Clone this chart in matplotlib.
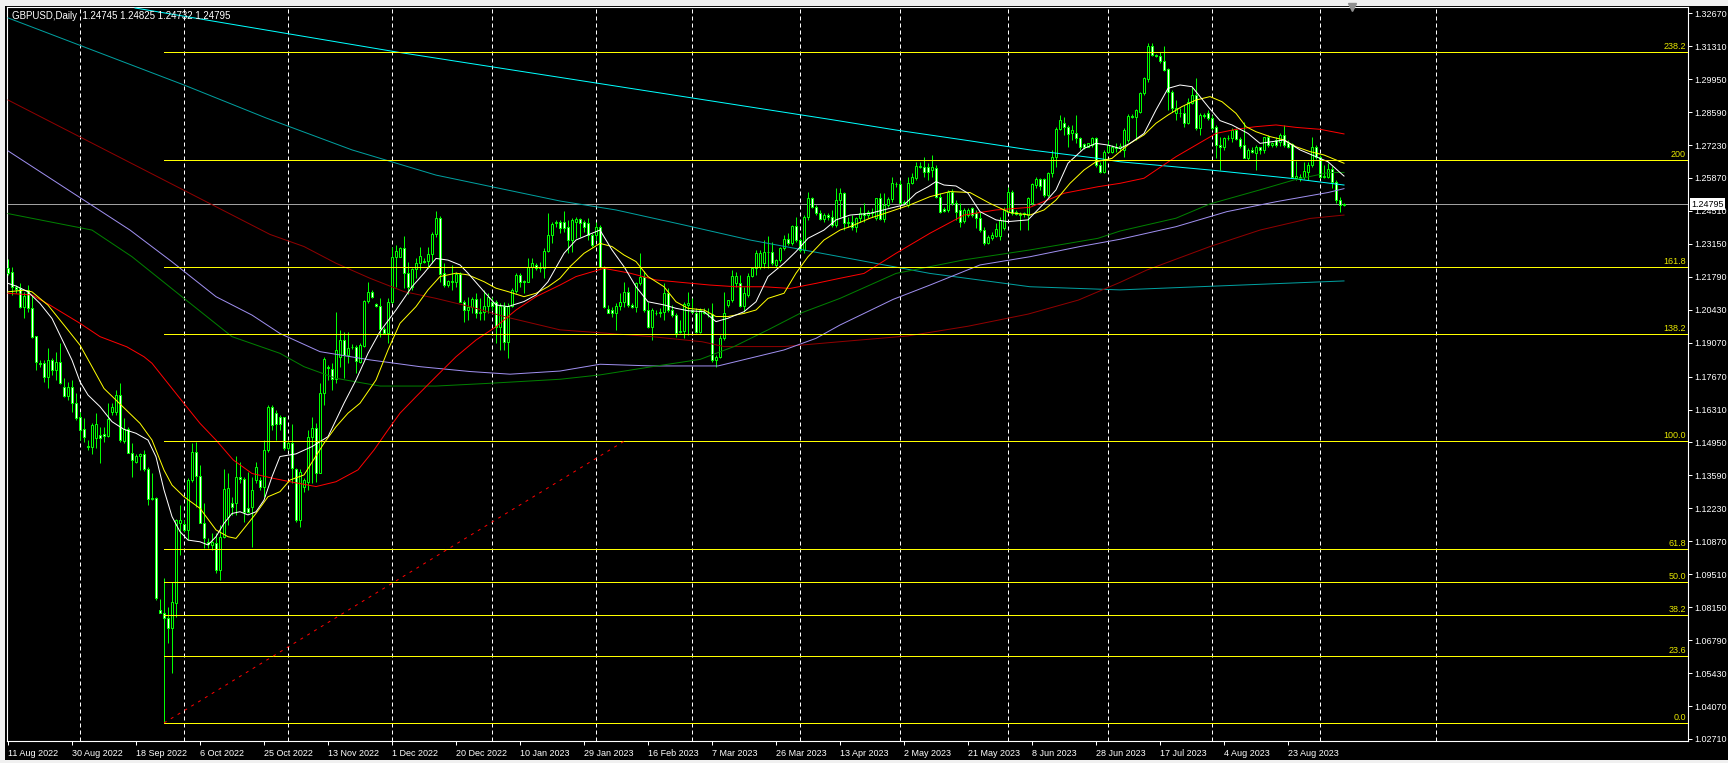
import matplotlib
matplotlib.use("Agg")
import matplotlib.pyplot as plt
import numpy as np

plt.rcParams['font.family'] = ['Liberation Sans', 'DejaVu Sans']

# GBPUSD daily candles, one bar per trading day (Sun-Fri), 11 Aug 2022 .. Sep 2023
opens = [
    1.2214, 1.2200, 1.2138, 1.2131, 1.2056, 1.2124, 1.2049, 1.1934, 1.1824, 1.1822,
    1.1767, 1.1835, 1.1794, 1.1826, 1.1725, 1.1688, 1.1725, 1.1659, 1.1599, 1.1551,
    1.1480, 1.1478, 1.1512, 1.1526, 1.1530, 1.1523, 1.1622, 1.1622, 1.1691, 1.1502,
    1.1549, 1.1453, 1.1416, 1.1439, 1.1446, 1.1384, 1.1260, 1.1264, 1.0803, 1.0792,
    1.0769, 1.0728, 1.0834, 1.1164, 1.1158, 1.1133, 1.1340, 1.1457, 1.1356, 1.1164,
    1.1085, 1.1072, 1.1081, 1.0968, 1.1106, 1.1186, 1.1246, 1.1246, 1.1354, 1.1343,
    1.1223, 1.1227, 1.1340, 1.1340, 1.1310, 1.1464, 1.1640, 1.1618, 1.1602, 1.1602,
    1.1471, 1.1492, 1.1384, 1.1175, 1.1313, 1.1333, 1.1516, 1.1554, 1.1370, 1.1698,
    1.1808, 1.1799, 1.1756, 1.1849, 1.1918, 1.1856, 1.1891, 1.1888, 1.1826, 1.1895,
    1.2079, 1.2115, 1.2066, 1.2059, 1.1962, 1.1949, 1.2077, 1.2260, 1.2262, 1.2297,
    1.2194, 1.2136, 1.2211, 1.2235, 1.2246, 1.2244, 1.2272, 1.2356, 1.2420, 1.2194,
    1.2145, 1.2156, 1.2159, 1.2191, 1.2077, 1.2042, 1.2053, 1.2087, 1.2028, 1.2032,
    1.2059, 1.2077, 1.2077, 1.1970, 1.2059, 1.1911, 1.2059, 1.2122, 1.2187, 1.2162,
    1.2159, 1.2218, 1.2228, 1.2214, 1.2214, 1.2286, 1.2352, 1.2400, 1.2407, 1.2407,
    1.2386, 1.2331, 1.2407, 1.2416, 1.2407, 1.2403, 1.2352, 1.2352, 1.2386, 1.2221,
    1.2045, 1.2042, 1.2028, 1.2059, 1.2076, 1.2118, 1.2063, 1.2056, 1.2152, 1.2180,
    1.2042, 1.1973, 1.2031, 1.2031, 1.2035, 1.2111, 1.2042, 1.2021, 1.1953, 1.1957,
    1.2063, 1.2042, 1.2028, 1.1953, 1.2035, 1.2031, 1.2025, 1.1836, 1.1849, 1.1925,
    1.2063, 1.2083, 1.2152, 1.2155, 1.2059, 1.2104, 1.2182, 1.2214, 1.2221, 1.2235,
    1.2283, 1.2283, 1.2228, 1.2249, 1.2297, 1.2334, 1.2317, 1.2389, 1.2331, 1.2290,
    1.2425, 1.2503, 1.2466, 1.2441, 1.2416, 1.2434, 1.2427, 1.2393, 1.2496, 1.2524,
    1.2400, 1.2407, 1.2386, 1.2421, 1.2441, 1.2434, 1.2448, 1.2421, 1.2503, 1.2416,
    1.2476, 1.2499, 1.2562, 1.2562, 1.2482, 1.2476, 1.2568, 1.2586, 1.2634, 1.2631,
    1.2631, 1.2620, 1.2627, 1.2510, 1.2458, 1.2455, 1.2531, 1.2485, 1.2455, 1.2411,
    1.2434, 1.2462, 1.2441, 1.2421, 1.2372, 1.2317, 1.2338, 1.2348, 1.2348, 1.2379,
    1.2448, 1.2531, 1.2448, 1.2438, 1.2441, 1.2434, 1.2482, 1.2558, 1.2582, 1.2582,
    1.2517, 1.2606, 1.2672, 1.2789, 1.2815, 1.2799, 1.2771, 1.2771, 1.2751, 1.2726,
    1.2716, 1.2723, 1.2751, 1.2641, 1.2613, 1.2696, 1.2696, 1.2716, 1.2709, 1.2703,
    1.2744, 1.2843, 1.2840, 1.2861, 1.2937, 1.2994, 1.3132, 1.3095, 1.3091, 1.3071,
    1.3036, 1.2943, 1.2857, 1.2857, 1.2854, 1.2813, 1.2898, 1.2930, 1.2792, 1.2847,
    1.2857, 1.2833, 1.2799, 1.2723, 1.2716, 1.2751, 1.2751, 1.2785, 1.2747, 1.2723,
    1.2671, 1.2703, 1.2689, 1.2716, 1.2703, 1.2755, 1.2723, 1.2744, 1.2737, 1.2765,
    1.2733, 1.2727, 1.2586, 1.2592, 1.2590, 1.2613, 1.2641, 1.2716, 1.2675, 1.2592,
    1.2592, 1.2623, 1.2572, 1.2496, 1.24745,
]
highs = [
    1.2251, 1.2218, 1.2145, 1.2152, 1.2117, 1.2145, 1.2104, 1.1934, 1.1835, 1.1835,
    1.1884, 1.1842, 1.1870, 1.1904, 1.1760, 1.1746, 1.1753, 1.1698, 1.1622, 1.1595,
    1.1505, 1.1574, 1.1615, 1.1560, 1.1560, 1.1657, 1.1657, 1.1712, 1.1739, 1.1595,
    1.1560, 1.1491, 1.1447, 1.1450, 1.1464, 1.1392, 1.1367, 1.1271, 1.0847, 1.0937,
    1.0817, 1.0920, 1.1180, 1.1237, 1.1175, 1.1347, 1.1491, 1.1498, 1.1402, 1.1244,
    1.1099, 1.1120, 1.1120, 1.1154, 1.1384, 1.1367, 1.1271, 1.1439, 1.1416, 1.1354,
    1.1374, 1.1354, 1.1416, 1.1354, 1.1505, 1.1650, 1.1650, 1.1629, 1.1609, 1.1602,
    1.1506, 1.1572, 1.1389, 1.1384, 1.1347, 1.1547, 1.1602, 1.1574, 1.1739, 1.1849,
    1.1815, 1.1822, 1.2035, 1.1960, 1.1953, 1.1953, 1.1902, 1.1898, 1.1905, 1.2083,
    1.2159, 1.2125, 1.2072, 1.2090, 1.1973, 1.2090, 1.2304, 1.2310, 1.2304, 1.2348,
    1.2242, 1.2214, 1.2255, 1.2304, 1.2255, 1.2304, 1.2365, 1.2451, 1.2430, 1.2235,
    1.2166, 1.2228, 1.2200, 1.2200, 1.2083, 1.2097, 1.2097, 1.2114, 1.2090, 1.2125,
    1.2111, 1.2097, 1.2083, 1.2070, 1.2077, 1.2070, 1.2132, 1.2194, 1.2194, 1.2166,
    1.2255, 1.2255, 1.2235, 1.2240, 1.2297, 1.2441, 1.2407, 1.2414, 1.2414, 1.2452,
    1.2414, 1.2420, 1.2427, 1.2420, 1.2414, 1.2420, 1.2359, 1.2407, 1.2393, 1.2224,
    1.2063, 1.2056, 1.2070, 1.2114, 1.2159, 1.2138, 1.2070, 1.2159, 1.2276, 1.2201,
    1.2076, 1.2049, 1.2042, 1.2049, 1.2152, 1.2132, 1.2063, 1.2028, 1.2001, 1.2076,
    1.2118, 1.2090, 1.2049, 1.2049, 1.2049, 1.2049, 1.2072, 1.1856, 1.1939, 1.2118,
    1.2083, 1.2207, 1.2200, 1.2187, 1.2138, 1.2194, 1.2221, 1.2290, 1.2290, 1.2331,
    1.2348, 1.2324, 1.2251, 1.2304, 1.2352, 1.2359, 1.2393, 1.2427, 1.2338, 1.2434,
    1.2531, 1.2510, 1.2476, 1.2455, 1.2441, 1.2441, 1.2455, 1.2544, 1.2544, 1.2531,
    1.2427, 1.2434, 1.2427, 1.2469, 1.2482, 1.2455, 1.2462, 1.2503, 1.2524, 1.2524,
    1.2510, 1.2593, 1.2572, 1.2579, 1.2496, 1.2593, 1.2606, 1.2654, 1.2654, 1.2675,
    1.2648, 1.2682, 1.2641, 1.2524, 1.2469, 1.2538, 1.2540, 1.2496, 1.2482, 1.2462,
    1.2462, 1.2469, 1.2455, 1.2448, 1.2386, 1.2352, 1.2365, 1.2400, 1.2427, 1.2469,
    1.2551, 1.2538, 1.2455, 1.2448, 1.2448, 1.2510, 1.2568, 1.2593, 1.2586, 1.2586,
    1.2613, 1.2703, 1.2799, 1.2847, 1.2837, 1.2806, 1.2806, 1.2847, 1.2758, 1.2730,
    1.2733, 1.2758, 1.2758, 1.2655, 1.2703, 1.2744, 1.2723, 1.2730, 1.2730, 1.2792,
    1.2851, 1.2850, 1.2871, 1.2943, 1.3005, 1.3143, 1.3143, 1.3098, 1.3108, 1.3132,
    1.3040, 1.2950, 1.2909, 1.2875, 1.2888, 1.2916, 1.2964, 1.2998, 1.2854, 1.2857,
    1.2868, 1.2847, 1.2806, 1.2758, 1.2758, 1.2765, 1.2792, 1.2792, 1.2758, 1.2820,
    1.2710, 1.2713, 1.2723, 1.2716, 1.2758, 1.2765, 1.2737, 1.2755, 1.2772, 1.2806,
    1.2744, 1.2730, 1.2658, 1.2603, 1.2654, 1.2654, 1.2755, 1.2723, 1.2680, 1.2641,
    1.2648, 1.2637, 1.2579, 1.2510, 1.24825,
]
lows = [
    1.2186, 1.2104, 1.2111, 1.2049, 1.2011, 1.2035, 1.1925, 1.1794, 1.1808, 1.1746,
    1.1718, 1.1773, 1.1753, 1.1736, 1.1684, 1.1670, 1.1622, 1.1588, 1.1505, 1.1498,
    1.1464, 1.1447, 1.1471, 1.1409, 1.1498, 1.1519, 1.1608, 1.1608, 1.1498, 1.1491,
    1.1450, 1.1354, 1.1409, 1.1381, 1.1378, 1.1237, 1.1257, 1.0845, 1.0790, 1.0337,
    1.0666, 1.0542, 1.0776, 1.1030, 1.1127, 1.1092, 1.1333, 1.1230, 1.1161, 1.1058,
    1.1058, 1.1051, 1.0955, 1.0927, 1.1099, 1.1154, 1.1195, 1.1195, 1.1326, 1.1168,
    1.1202, 1.1065, 1.1326, 1.1299, 1.1271, 1.1457, 1.1546, 1.1505, 1.1547, 1.1464,
    1.1464, 1.1327, 1.1168, 1.1148, 1.1292, 1.1299, 1.1327, 1.1333, 1.1368, 1.1650,
    1.1753, 1.1712, 1.1739, 1.1808, 1.1760, 1.1822, 1.1880, 1.1783, 1.1822, 1.1891,
    1.2070, 1.2090, 1.2053, 1.1932, 1.1943, 1.1905, 1.2070, 1.2138, 1.2262, 1.2131,
    1.2108, 1.2125, 1.2173, 1.2207, 1.2235, 1.2214, 1.2235, 1.2345, 1.2159, 1.2138,
    1.2138, 1.2125, 1.2138, 1.2077, 1.1994, 1.2001, 1.2028, 1.2008, 1.2001, 1.2001,
    1.2028, 1.2042, 1.1905, 1.1877, 1.1877, 1.1843, 1.2056, 1.2111, 1.2138, 1.2111,
    1.2156, 1.2173, 1.2207, 1.2200, 1.2173, 1.2283, 1.2317, 1.2386, 1.2359, 1.2365,
    1.2276, 1.2283, 1.2338, 1.2345, 1.2365, 1.2331, 1.2304, 1.2331, 1.2214, 1.2049,
    1.2028, 1.2015, 1.1960, 1.2042, 1.2056, 1.2053, 1.2049, 1.2035, 1.2145, 1.2035,
    1.1966, 1.1918, 1.2021, 1.2015, 1.2001, 1.2035, 1.2015, 1.1932, 1.1946, 1.1925,
    1.1939, 1.2028, 1.1946, 1.1946, 1.2025, 1.2015, 1.1829, 1.1808, 1.1842, 1.1918,
    1.2056, 1.2076, 1.2138, 1.2056, 1.2035, 1.2097, 1.2180, 1.2187, 1.2210, 1.2214,
    1.2214, 1.2228, 1.2218, 1.2242, 1.2290, 1.2311, 1.2311, 1.2324, 1.2283, 1.2276,
    1.2414, 1.2462, 1.2434, 1.2414, 1.2407, 1.2414, 1.2386, 1.2386, 1.2427, 1.2372,
    1.2386, 1.2372, 1.2365, 1.2407, 1.2407, 1.2421, 1.2427, 1.2414, 1.2414, 1.2407,
    1.2469, 1.2489, 1.2551, 1.2476, 1.2476, 1.2469, 1.2562, 1.2579, 1.2627, 1.2593,
    1.2579, 1.2593, 1.2503, 1.2441, 1.2448, 1.2448, 1.2476, 1.2414, 1.2386, 1.2400,
    1.2427, 1.2427, 1.2379, 1.2365, 1.2311, 1.2315, 1.2331, 1.2342, 1.2331, 1.2372,
    1.2441, 1.2434, 1.2434, 1.2372, 1.2427, 1.2372, 1.2476, 1.2544, 1.2538, 1.2510,
    1.2510, 1.2593, 1.2634, 1.2785, 1.2765, 1.2716, 1.2744, 1.2730, 1.2703, 1.2705,
    1.2714, 1.2716, 1.2634, 1.2606, 1.2606, 1.2689, 1.2689, 1.2696, 1.2696, 1.2675,
    1.2737, 1.2835, 1.2744, 1.2854, 1.2930, 1.2985, 1.3091, 1.3088, 1.3060, 1.3028,
    1.2868, 1.2861, 1.2826, 1.2840, 1.2799, 1.2810, 1.2893, 1.2785, 1.2765, 1.2833,
    1.2826, 1.2785, 1.2668, 1.2620, 1.2703, 1.2744, 1.2737, 1.2744, 1.2710, 1.2668,
    1.2661, 1.2689, 1.2620, 1.2686, 1.2689, 1.2714, 1.2716, 1.2716, 1.2719, 1.2716,
    1.2710, 1.2586, 1.2579, 1.2576, 1.2581, 1.2579, 1.2634, 1.2664, 1.2586, 1.2586,
    1.2586, 1.2544, 1.2482, 1.2448, 1.24732,
]
closes = [
    1.2193, 1.2138, 1.2127, 1.2056, 1.2100, 1.2049, 1.1932, 1.1828, 1.1819, 1.1767,
    1.1835, 1.1794, 1.1826, 1.1742, 1.1688, 1.1725, 1.1659, 1.1595, 1.1546, 1.1516,
    1.1475, 1.1567, 1.1571, 1.1512, 1.1522, 1.1592, 1.1640, 1.1691, 1.1505, 1.1549,
    1.1453, 1.1423, 1.1439, 1.1446, 1.1384, 1.1260, 1.1264, 1.0852, 1.0792, 1.0769,
    1.0728, 1.0838, 1.1175, 1.1175, 1.1133, 1.1340, 1.1457, 1.1356, 1.1164, 1.1099,
    1.1076, 1.1085, 1.0968, 1.1106, 1.1301, 1.1306, 1.1227, 1.1354, 1.1343, 1.1209,
    1.1209, 1.1299, 1.1395, 1.1310, 1.1464, 1.1640, 1.1567, 1.1571, 1.1572, 1.1471,
    1.1492, 1.1389, 1.1175, 1.1375, 1.1340, 1.1519, 1.1554, 1.1370, 1.1698, 1.1840,
    1.1801, 1.1756, 1.1877, 1.1918, 1.1856, 1.1884, 1.1888, 1.1830, 1.1898, 1.2081,
    1.2115, 1.2094, 1.2059, 1.1962, 1.1949, 1.2077, 1.2260, 1.2286, 1.2297, 1.2194,
    1.2136, 1.2211, 1.2235, 1.2265, 1.2240, 1.2273, 1.2356, 1.2420, 1.2191, 1.2145,
    1.2162, 1.2162, 1.2191, 1.2077, 1.2042, 1.2053, 1.2087, 1.2028, 1.2035, 1.2059,
    1.2097, 1.2059, 1.1973, 1.2059, 1.1911, 1.2059, 1.2125, 1.2187, 1.2159, 1.2156,
    1.2218, 1.2235, 1.2214, 1.2221, 1.2286, 1.2352, 1.2397, 1.2407, 1.2379, 1.2379,
    1.2331, 1.2414, 1.2416, 1.2400, 1.2386, 1.2352, 1.2311, 1.2386, 1.2221, 1.2056,
    1.2031, 1.2028, 1.2059, 1.2076, 1.2118, 1.2063, 1.2056, 1.2152, 1.2180, 1.2042,
    1.1973, 1.2042, 1.2031, 1.2035, 1.2111, 1.2042, 1.2021, 1.1946, 1.1957, 1.2067,
    1.2070, 1.2035, 1.1953, 1.2042, 1.2031, 1.2028, 1.1836, 1.1849, 1.1925, 1.2031,
    1.2083, 1.2182, 1.2182, 1.2059, 1.2111, 1.2182, 1.2214, 1.2276, 1.2276, 1.2283,
    1.2283, 1.2235, 1.2249, 1.2297, 1.2334, 1.2317, 1.2389, 1.2331, 1.2290, 1.2425,
    1.2503, 1.2466, 1.2441, 1.2416, 1.2434, 1.2427, 1.2393, 1.2496, 1.2524, 1.2400,
    1.2407, 1.2386, 1.2421, 1.2441, 1.2434, 1.2448, 1.2444, 1.2503, 1.2416, 1.2476,
    1.2499, 1.2568, 1.2562, 1.2482, 1.2489, 1.2568, 1.2590, 1.2637, 1.2637, 1.2613,
    1.2613, 1.2634, 1.2510, 1.2448, 1.2452, 1.2531, 1.2482, 1.2448, 1.2407, 1.2455,
    1.2455, 1.2434, 1.2421, 1.2372, 1.2317, 1.2345, 1.2352, 1.2375, 1.2414, 1.2455,
    1.2531, 1.2441, 1.2438, 1.2434, 1.2438, 1.2503, 1.2562, 1.2582, 1.2554, 1.2517,
    1.2609, 1.2675, 1.2789, 1.2826, 1.2799, 1.2769, 1.2785, 1.2751, 1.2716, 1.2716,
    1.2730, 1.2751, 1.2641, 1.2613, 1.2696, 1.2723, 1.2716, 1.2709, 1.2720, 1.2785,
    1.2843, 1.2840, 1.2868, 1.2937, 1.2998, 1.3132, 1.3095, 1.3091, 1.3071, 1.3033,
    1.2943, 1.2875, 1.2875, 1.2854, 1.2813, 1.2902, 1.2930, 1.2792, 1.2847, 1.2843,
    1.2833, 1.2792, 1.2723, 1.2716, 1.2751, 1.2751, 1.2785, 1.2747, 1.2719, 1.2671,
    1.2703, 1.2696, 1.2716, 1.2703, 1.2755, 1.2723, 1.2733, 1.2723, 1.2765, 1.2723,
    1.2716, 1.2592, 1.2597, 1.2588, 1.2617, 1.2641, 1.2716, 1.2675, 1.2592, 1.2595,
    1.2623, 1.2572, 1.2496, 1.2475, 1.24795,
]

# moving averages as (bar, price)
ma_white = [(0,1.2152),(2,1.2141),(5,1.2117),(8,1.2069),(11,1.2007),(14,1.1904),(16,1.1835),
            (18,1.1746),(20,1.1691),(23,1.1643),(26,1.1581),(29,1.1549),(32,1.1533),(35,1.1505),
            (37,1.1436),(39,1.1299),(41,1.1189),(43,1.1127),(45,1.1092),(48,1.1085),(50,1.1072),
            (52,1.1106),(54,1.1161),(56,1.1202),(58,1.1209),(60,1.1196),(62,1.1209),(64,1.1257),
            (66,1.1354),(68,1.1437),(72,1.1448),(76,1.1478),(80,1.1519),(84,1.1657),(87,1.1753),
            (90,1.1863),(93,1.1953),(97,1.2042),(101,1.2138),(104,1.2194),(107,1.2255),(110,1.2248),
            (113,1.2228),(115,1.2194),(119,1.2118),(122,1.2063),(125,1.2056),(129,1.2077),(132,1.2104),
            (135,1.2159),(139,1.2276),(142,1.2331),(146,1.2359),(148,1.2372),(151,1.2290),(154,1.2221),
            (157,1.2138),(160,1.2076),(164,1.2063),(167,1.2049),(170,1.2039),(174,1.2035),(177,1.1994),
            (180,1.2008),(184,1.2035),(187,1.2076),(190,1.2180),(194,1.2235),(197,1.2283),(200,1.2338),
            (204,1.2372),(207,1.2414),(210.5,1.2434),(215.5,1.2441),(220.5,1.2462),(224,1.2476),
            (227,1.2524),(230,1.2551),(232,1.2572),(234,1.2558),(237,1.2554),(240,1.2524),(243,1.2448),
            (247,1.2414),(250,1.2407),(255,1.2414),(259,1.2482),(262,1.2538),(265,1.2648),(269,1.2709),
            (272,1.2730),(275,1.2723),(278,1.2709),(280.5,1.2730),(284,1.2771),(287,1.2868),(290,1.2957),
            (293,1.2971),(296,1.2964),(300,1.2882),(303,1.2824),(306,1.2806),(310,1.2771),(313,1.2730),
            (316,1.2737),(319,1.2744),(323,1.2703),(326,1.2682),(330,1.2654),(334,1.2595)]
ma_yellow = [(0,1.2117),(4,1.2124),(6,1.2117),(10,1.2062),(14,1.1980),(18,1.1897),(21,1.1808),
             (24,1.1718),(27,1.1670),(30,1.1622),(33,1.1574),(36,1.1505),(39,1.1381),(41,1.1319),
             (44,1.1271),(48,1.1223),(52,1.1134),(55,1.1106),(57,1.1099),(59,1.1140),(62,1.1202),
             (65,1.1271),(68,1.1292),(70.5,1.1340),(74,1.1361),(79,1.1492),(82,1.1560),(85,1.1616),
             (88,1.1657),(92,1.1753),(95,1.1877),(98,1.1987),(102,1.2056),(105,1.2125),(108,1.2180),
             (112,1.2194),(115,1.2187),(119,1.2159),(122,1.2132),(125,1.2118),(129,1.2097),(132,1.2111),
             (135,1.2138),(138,1.2173),(140.5,1.2221),(144,1.2276),(148,1.2317),(151,1.2304),(154,1.2269),
             (157,1.2242),(160,1.2180),(164,1.2138),(167,1.2076),(170,1.2049),(174,1.2042),(177,1.2015),
             (180,1.2015),(184,1.2028),(187,1.2042),(190,1.2090),(194,1.2111),(197,1.2194),(200,1.2262),
             (204,1.2331),(208,1.2372),(210.5,1.2386),(215.5,1.2421),(220.5,1.2448),(225.5,1.2476),
             (230.5,1.2510),(235.5,1.2531),(240.5,1.2527),(245.5,1.2482),(250.5,1.2444),(255.5,1.2434),
             (259,1.2455),(262,1.2496),(265.5,1.2565),(269,1.2620),(272,1.2654),(276,1.2668),(278,1.2696),
             (280.5,1.2730),(284,1.2765),(287,1.2813),(290,1.2847),(293.5,1.2882),(297,1.2909),
             (300.5,1.2923),(303.5,1.2902),(307,1.2854),(309.5,1.2799),(312,1.2778),(315.5,1.2758),
             (319,1.2744),(322,1.2716),(325.5,1.2696),(329,1.2682),(334,1.2648)]
ma_red = [(0,1.2111),(6,1.2104),(10.5,1.2062),(18,1.1987),(23,1.1932),(29.7,1.1890),(34,1.1849),
          (36,1.1822),(40,1.1739),(44,1.1656),(48,1.1574),(52,1.1505),(56.3,1.1423),(61,1.1367),
          (66.3,1.1347),(70.5,1.1333),(77,1.1313),(82,1.1333),(87.5,1.1382),(91.5,1.1464),(95,1.1547),
          (98,1.1616),(102,1.1684),(107,1.1767),(112,1.1849),(117,1.1918),(122,1.1973),(127,1.2042),
          (132,1.2097),(138,1.2145),(142,1.2180),(149,1.2214),(155.5,1.2194),(162,1.2166),(169,1.2155),
          (175.5,1.2145),(182,1.2138),(189,1.2138),(195.5,1.2131),(202,1.2152),(208,1.2173),(214,1.2193),
          (222,1.2276),(230.5,1.2359),(239,1.2434),(247,1.2455),(255.5,1.2466),(264,1.2524),
          (272.5,1.2551),(278,1.2565),(284,1.2586),(292,1.2675),(297,1.2723),(302,1.2771),(307,1.2788),
          (312,1.2799),(317,1.2806),(322,1.2796),(328,1.2788),(334,1.2769)]
ma_green = [(0,1.2440),(21,1.2372),(31,1.2262),(44,1.2090),(56,1.1932),(68,1.1863),(74,1.1808),
            (82,1.1760),(93,1.1728),(107,1.1728),(120,1.1739),(138,1.1756),(148,1.1774),(161,1.1808),
            (173,1.1838),(181.5,1.1891),(190,1.1960),(198,1.2028),(208,1.2090),(222,1.2193),
            (239,1.2249),(255.5,1.2290),(272.5,1.2338),(278,1.2368),(292,1.2421),(300.5,1.2480),
            (313,1.2538),(321.5,1.2579),(330,1.2609),(334,1.2610)]
ma_purple = [(0,1.2699),(30.5,1.2372),(41,1.2241),(52,1.2097),(61,1.2021),(68,1.1945),(78,1.1870),
             (90.5,1.1836),(103,1.1808),(115.5,1.1788),(125.5,1.1777),(138,1.1790),(148,1.1818),
             (161,1.1811),(177.5,1.1811),(185.5,1.1843),(194,1.1877),(202,1.1925),(208,1.1980),
             (221.3,1.2086),(230.5,1.2145),(243,1.2228),(255.5,1.2262),(268,1.2304),(278,1.2334),
             (292,1.2386),(304.7,1.2448),(317,1.2489),(330,1.2527),(334,1.2543)]
ma_maroon = [(0,1.2909),(65.5,1.2354),(74,1.2304),(82,1.2235),(90.5,1.2173),(99,1.2118),(107,1.2090),
             (115.5,1.2056),(124,1.2015),(138,1.1960),(148,1.1948),(161,1.1932),(173.5,1.1911),
             (179,1.1891),(194,1.1891),(208,1.1911),(225,1.1935),(240,1.1975),(255,1.2025),
             (267.6,1.2083),(278,1.2156),(284.7,1.2207),(300.5,1.2304),(313,1.2372),(325.5,1.2420),
             (334,1.2434)]
ma_teal = [(0,1.3248),(44,1.2971),(64.5,1.2835),(86,1.2703),(107,1.2599),(138,1.2492),(152,1.2455),
           (169,1.2393),(185.5,1.2331),(208,1.2262),(230.5,1.2193),(255.5,1.2138),(278,1.2125),
           (334,1.2162)]
ma_cyan = [(31.75,1.3289),(97.25,1.3107),(205.5,1.2829),(222,1.2785),(239,1.2744),(255.5,1.2703),
           (272.5,1.2668),(278,1.2654),(300.5,1.2620),(320.5,1.2586),(334,1.2558)]

# fibonacci retracement: anchors (bar, price) and level labels
fib_start = (39, 1.0337)
fib_end = (154, 1.1500)
fib_ratios = [0.0, 0.236, 0.382, 0.5, 0.618, 1.0, 1.382, 1.618, 2.0, 2.382]
fib_labels = ['0.0', '23.6', '38.2', '50.0', '61.8', '100.0', '138.2', '161.8', '200', '238.2']

price_ticks = [1.32670, 1.31310, 1.29950, 1.28590, 1.27230, 1.25870, 1.24510, 1.23150, 1.21790,
               1.20430, 1.19070, 1.17670, 1.16310, 1.14950, 1.13590, 1.12230, 1.10870, 1.09510,
               1.08150, 1.06790, 1.05430, 1.04070, 1.02710]
date_labels = ['11 Aug 2022', '30 Aug 2022', '18 Sep 2022', '6 Oct 2022', '25 Oct 2022',
               '13 Nov 2022', '1 Dec 2022', '20 Dec 2022', '10 Jan 2023', '29 Jan 2023',
               '16 Feb 2023', '7 Mar 2023', '26 Mar 2023', '13 Apr 2023', '2 May 2023',
               '21 May 2023', '8 Jun 2023', '28 Jun 2023', '17 Jul 2023', '4 Aug 2023',
               '23 Aug 2023']
label_every = 16
month_start_bars = [18, 44, 70, 96, 121, 147, 171, 198, 223, 250, 275, 301, 328, 357]
last_price = 1.24795
title = 'GBPUSD,Daily  1.24745 1.24825 1.24732 1.24795'

# ---- figure -------------------------------------------------------------
W, H = 1728, 763
def box(x0, y0, x1, y1):
    return [x0 / W, 1 - y1 / H, (x1 - x0) / W, (y1 - y0) / H]

fig = plt.figure(figsize=(W / 100, H / 100), dpi=100, facecolor='#f0f0f0')
bg = fig.add_axes(box(5, 6, W, 760), facecolor='black')
bg.set_xticks([]); bg.set_yticks([])
for s in bg.spines.values():
    s.set_visible(False)

ax = fig.add_axes(box(7, 7, 1688, 741), facecolor='black')
ax.set_xlim(-0.25, 420)
ax.set_ylim(1.02625, 1.3293)
for s in ax.spines.values():
    s.set_color('white'); s.set_linewidth(0.8)

px = 0.72  # one pixel in points

n = min(len(opens), len(highs), len(lows), len(closes))
o = np.array(opens[:n]); h = np.array(highs[:n]); l = np.array(lows[:n]); c = np.array(closes[:n])
x = np.arange(n)
top = np.maximum(h, np.maximum(o, c))
bot = np.minimum(l, np.minimum(o, c))
ax.vlines(x, bot, top, color='#00ff00', lw=px, zorder=2)
ax.bar(x, np.abs(c - o), bottom=np.minimum(o, c), width=0.5,
       color=np.where(c >= o, 'black', 'white'), edgecolor='#00ff00', linewidth=px, zorder=3)

# month grid
for b in month_start_bars:
    ax.axvline(b, color='white', lw=px, ls=(0, (4, 3)), zorder=1)

# moving averages
for pts, col in [(ma_cyan, '#00ffff'), (ma_teal, '#00a0a0'), (ma_maroon, '#900000'),
                 (ma_purple, '#9f8fef'), (ma_green, '#008000'), (ma_red, '#ff0000'),
                 (ma_yellow, '#ffff00'), (ma_white, '#ffffff')]:
    bx, by = zip(*pts)
    ax.plot(bx, by, color=col, lw=px, zorder=4)

# bid line
ax.axhline(last_price, color='#a0a0a0', lw=px, zorder=1.5)

# fibonacci
span = fib_end[1] - fib_start[1]
for r, lab in zip(fib_ratios, fib_labels):
    lev = fib_start[1] + r * span
    ax.plot([fib_start[0], ax.get_xlim()[1]], [lev, lev], color='#ffff00', lw=px, zorder=5)
    ax.annotate(lab, (1.0, lev), xycoords=('axes fraction', 'data'), xytext=(-2, 1),
                textcoords='offset pixels', ha='right', va='bottom', color='#e6e600',
                fontsize=6.5, zorder=6)
ax.plot([fib_start[0], fib_end[0]], [fib_start[1], fib_end[1]], color='#ff0000', lw=px,
        ls=(0, (3, 5)), zorder=5)

# axes ticks
ax.yaxis.tick_right()
ax.set_yticks(price_ticks, ['%.5f' % v for v in price_ticks])
ax.tick_params(axis='y', colors='white', length=3, width=px, pad=1.5, labelsize=6.5,
               direction='out')
ax.set_xticks(np.arange(len(date_labels)) * label_every, date_labels)
ax.tick_params(axis='x', colors='white', length=3, width=px, pad=2.5, labelsize=6.5,
               direction='out')
for lbl in ax.get_xticklabels():
    lbl.set_horizontalalignment('left')

ax.annotate('%.5f' % last_price, (1.0, last_price), xycoords=('axes fraction', 'data'),
            xytext=(3, 0), textcoords='offset pixels', ha='left', va='center',
            color='black', fontsize=6.5, zorder=10, annotation_clip=False,
            bbox=dict(boxstyle='square,pad=0.12', fc='white', ec='none'))

ax.text(5 / 1681, 1 - 4 / 734, title, transform=ax.transAxes, ha='left', va='top',
        color='white', fontsize=7, zorder=10)

# chart-shift marker
ax.plot([n + 1], [ax.get_ylim()[1]], marker='v', color='#909090', ms=6, clip_on=False, zorder=10)

fig.savefig('out.png', dpi=100, facecolor=fig.get_facecolor())
